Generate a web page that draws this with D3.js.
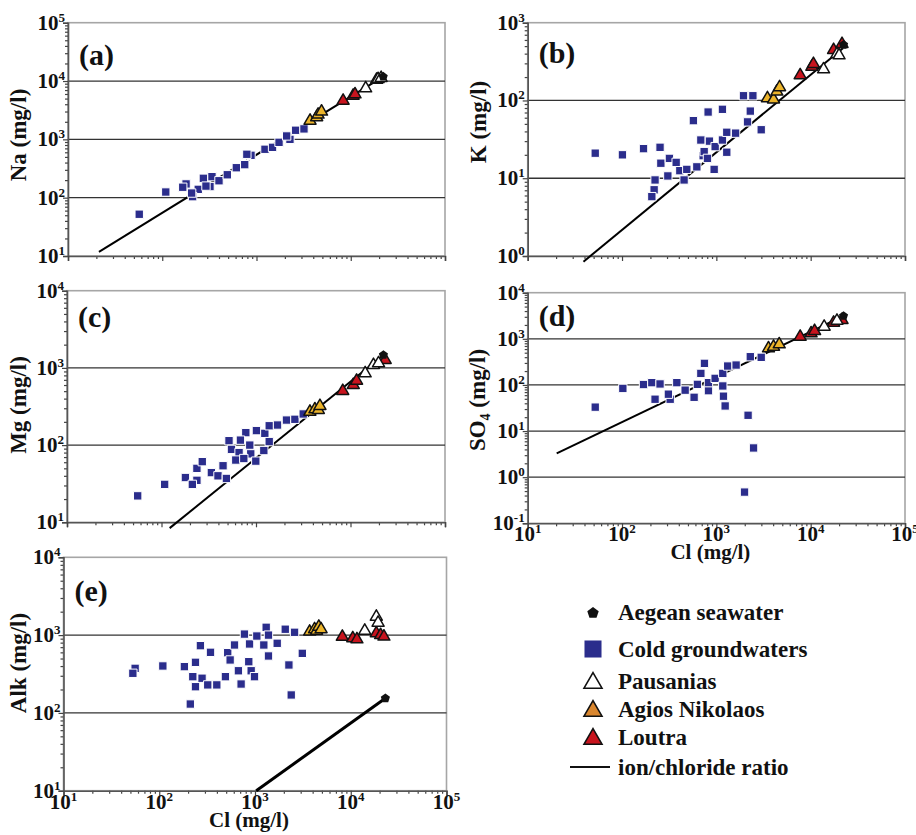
<!DOCTYPE html>
<html lang="en">
<head>
<meta charset="utf-8">
<title>Ion vs chloride</title>
<style>
  body { margin: 0; background: #fff; }
  svg text { font-family: "Liberation Serif", "Times New Roman", serif; font-weight: bold; fill: #111; }
</style>
</head>
<body>
<svg id="chart" width="916" height="835"></svg>
<script src="https://cdn.jsdelivr.net/npm/d3@7"></script>
<script>
// ---- data: [Cl mg/l, ion mg/l] ----
const clExponents = [1, 2, 3, 4, 5];

const naExponents = [1, 2, 3, 4, 5];
const naCold = [[57,52],[109,125],[179,172],[165,151],[241,139],[210,104],[205,120],[273,215],[337,229],[321,155],[291,158],[400,195],[490,247],[611,326],[750,368],[875,533],[790,555],[1230,676],[1480,730],[1734,890],[2265,1000],[2090,1143],[2600,1432],[3190,1510]];
const naPausanias = [[14400,7500],[18800,10500],[19500,10800],[21000,11300]];
const naAgios = [[3700,2090],[4350,2400],[4500,2650],[4900,2990]];
const naLoutra = [[8300,4600],[10600,5600],[11100,5900]];
const naSea = [[22100,11900]];
const naRatio = [[21.3,11.8],[22100,11900]];

const kExponents = [0, 1, 2, 3];
const kCold = [[52,21],[101,20],[169,24],[253,25],[258,15.6],[318,18],[375,16],[306,10.7],[224,9.5],[219,7.1],[207,5.8],[410,12.5],[455,9.5],[486,13],[621,14],[571,55],[818,71],[1160,77],[685,31],[845,30],[725,19.5],[743,22],[805,18],[948,13],[971,25.5],[1160,31],[1290,39],[1600,38],[1290,21.6],[2140,53],[2290,73],[1940,115],[2440,115],[2990,42]];
const kPausanias = [[13700,251],[19000,396],[20000,380]];
const kAgios = [[3480,107],[4040,103],[4380,130],[4680,148]];
const kLoutra = [[7740,211],[10300,272],[10700,294],[17500,446],[21500,532]];
const kSea = [[22300,520]];
const kRatio = [[39,0.845],[22000,470]];

const mgExponents = [1, 2, 3, 4];
const mgCold = [[56,22],[108,31],[179,38],[237,35],[237,50],[270,61],[212,31],[337,44],[396,40],[448,54],[486,37],[518,114],[550,88],[662,80],[611,64],[780,145],[684,116],[859,100],[880,77],[743,67],[1010,154],[1240,142],[1380,111],[1210,85],[995,62],[1380,178],[1690,182],[2100,211],[2580,216],[3160,253]];
const mgPausanias = [[14300,851],[17500,1090],[19800,1150]];
const mgAgios = [[3720,271],[4200,290],[4570,285],[4750,321]];
const mgLoutra = [[8280,502],[10700,601],[11600,682],[23300,1265]];
const mgSea = [[22300,1470]];
const mgRatio = [[122,8.4],[22300,1470]];

const so4Exponents = [-1, 0, 1, 2, 3, 4];
const so4Cold = [[52,33],[102,84],[169,102],[207,112],[253,105],[381,112],[224,49],[324,49],[310,63],[467,77],[581,54],[630,103],[685,178],[748,294],[825,75],[825,112],[971,139],[1170,178],[1170,95],[1190,57],[1240,35],[1320,257],[1620,270],[2290,409],[2990,397],[2170,22],[2480,4.3],[1990,0.475]];
const so4Pausanias = [[13900,1830],[19000,2470]];
const so4Agios = [[3570,622],[4040,675],[4640,758]];
const so4Loutra = [[7740,1110],[10100,1315],[11000,1475],[17500,2235],[21500,2560]];
const so4Sea = [[22300,3130]];
const so4Ratio = [[20.3,3.28],[22300,3130]];

const alkExponents = [1, 2, 3, 4];
const alkCold = [[56,374],[53,323],[109,401],[183,393],[239,447],[269,731],[343,601],[224,292],[280,279],[239,217],[321,229],[399,229],[211,130],[491,292],[519,594],[550,479],[611,746],[776,1030],[671,348],[716,235],[861,455],[877,769],[912,348],[988,292],[1045,973],[1236,746],[1309,1260],[1383,1000],[1383,539],[1706,785],[2070,1190],[2590,1087],[3120,583],[2260,413],[2390,170]];
const alkPausanias = [[14000,1140],[18500,1725],[19300,1440]];
const alkAgios = [[3720,1107],[4190,1190],[4400,1140],[4640,1282],[4900,1190]];
const alkLoutra = [[8170,953],[10500,910],[11600,883],[18500,1055],[20500,1000],[22200,955]];
const alkSea = [[23000,154]];
const alkRatio = [[1030,10],[23000,154]];

const legendLabels = ["Aegean seawater", "Cold groundwaters", "Pausanias", "Agios Nikolaos", "Loutra", "ion/chloride ratio"];

// ---- layout ----
const colors = { cold: "#2b2d8c", agios: "#ecb42a", agiosLegend: "#d9862e", loutra: "#c8141e" };

const panels = [
  { tag: "(a)", ion: "Na", exps: naExponents, cold: naCold, paus: naPausanias, agios: naAgios, loutra: naLoutra, sea: naSea, ratio: naRatio,
    box: [68, 22.7, 445, 256], tagDy: 42, labelY: 135, labelX: 26, xLabels: false, lineW: 2 },
  { tag: "(b)", ion: "K", exps: kExponents, cold: kCold, paus: kPausanias, agios: kAgios, loutra: kLoutra, sea: kSea, ratio: kRatio,
    box: [527.7, 22.7, 905, 256], tagDy: 40, labelY: 122, labelX: 486, xLabels: false, lineW: 2 },
  { tag: "(c)", ion: "Mg", exps: mgExponents, cold: mgCold, paus: mgPausanias, agios: mgAgios, loutra: mgLoutra, sea: mgSea, ratio: mgRatio,
    box: [67, 290.7, 445, 522.3], tagDy: 36, labelY: 405, labelX: 26, xLabels: false, lineW: 2 },
  { tag: "(d)", ion: "SO4", exps: so4Exponents, cold: so4Cold, paus: so4Pausanias, agios: so4Agios, loutra: so4Loutra, sea: so4Sea, ratio: so4Ratio,
    box: [527.7, 292.7, 905, 523.3], tagDy: 33, labelY: 400, labelX: 485, xLabels: true, lineW: 2 },
  { tag: "(e)", ion: "Alk", exps: alkExponents, cold: alkCold, paus: alkPausanias, agios: alkAgios, loutra: alkLoutra, sea: alkSea, ratio: alkRatio,
    box: [63.5, 557.3, 446.5, 790.7], tagDy: 44, labelY: 663, labelX: 26, xLabels: true, lineW: 3 }
];

const svg = d3.select("#chart");

function pentagon(r) {
  const pts = d3.range(5).map(i => {
    const a = -Math.PI / 2 + i * 2 * Math.PI / 5;
    return [r * Math.cos(a), r * Math.sin(a)];
  });
  return "M" + pts.join("L") + "Z";
}

function powLabel(sel, exp, supSize) {
  sel.text("10");
  sel.append("tspan").attr("dy", -8).style("font-size", supSize + "px").text(exp);
}

panels.forEach(p => {
  const [x0, y0, x1, y1] = p.box;
  const g = svg.append("g");
  const x = d3.scaleLog().domain([10, 1e5]).range([x0, x1]);
  const yDom = [Math.pow(10, p.exps[0]), Math.pow(10, p.exps[p.exps.length - 1])];
  const y = d3.scaleLog().domain(yDom).range([y1, y0]);
  const yMajor = p.exps.map(e => Math.pow(10, e));
  const xMajor = clExponents.map(e => Math.pow(10, e));

  // frame
  g.append("rect").attr("x", x0).attr("y", y0).attr("width", x1 - x0).attr("height", y1 - y0)
    .attr("fill", "#fff").attr("stroke", "#a6a6a6").attr("stroke-width", 1.6);

  // gridlines at interior decades
  g.selectAll(".grid").data(yMajor.slice(1, -1)).enter().append("line")
    .attr("x1", x0).attr("x2", x1).attr("y1", d => y(d)).attr("y2", d => y(d))
    .attr("stroke", "#333").attr("stroke-width", 1.3);

  // axes: minor + major ticks
  const yMinor = y.ticks().filter(v => !yMajor.some(m => Math.abs(m - v) / m < 1e-6));
  const xMinor = x.ticks().filter(v => !xMajor.some(m => Math.abs(m - v) / m < 1e-6));
  const ax = g.append("g").attr("transform", `translate(${x0},0)`);
  ax.call(d3.axisLeft(y).tickValues(yMinor).tickSize(3).tickFormat(""));
  ax.call(g2 => g2.select(".domain").remove());
  const axM = g.append("g").attr("transform", `translate(${x0},0)`)
    .call(d3.axisLeft(y).tickValues(yMajor).tickSize(5).tickFormat(""));
  axM.select(".domain").attr("stroke", "#555").attr("stroke-width", 1.6);
  const bx = g.append("g").attr("transform", `translate(0,${y1})`)
    .call(d3.axisBottom(x).tickValues(xMinor).tickSize(3).tickFormat(""));
  bx.select(".domain").remove();
  const bxM = g.append("g").attr("transform", `translate(0,${y1})`)
    .call(d3.axisBottom(x).tickValues(xMajor).tickSize(5).tickFormat(""));
  bxM.select(".domain").attr("stroke", "#555").attr("stroke-width", 1.6);
  g.selectAll(".tick line").attr("stroke", "#444").attr("stroke-width", 1.2);

  // y tick labels
  yMajor.forEach((v, i) => {
    g.append("text").attr("x", x0 - 3).attr("y", y(v) + 7).attr("text-anchor", "end")
      .style("font-size", "21px").call(powLabel, p.exps[i], 13);
  });
  if (p.xLabels) {
    xMajor.forEach((v, i) => {
      g.append("text").attr("x", x(v)).attr("y", y1 + 18).attr("text-anchor", "middle")
        .style("font-size", "21px").call(powLabel, clExponents[i], 13);
    });
    g.append("text").attr("x", (x0 + x1) / 2 - 6).attr("y", y1 + 36).attr("text-anchor", "middle")
      .style("font-size", "21px").text("Cl (mg/l)");
  }

  // y axis title
  const yl = g.append("text").attr("transform", `translate(${p.labelX},${p.labelY}) rotate(-90)`)
    .attr("text-anchor", "middle").style("font-size", "23px");
  if (p.ion === "SO4") {
    yl.append("tspan").text("SO");
    yl.append("tspan").attr("dy", 5).style("font-size", "14px").text("4");
    yl.append("tspan").attr("dy", -5).text(" (mg/l)");
  } else {
    yl.text(p.ion + " (mg/l)");
  }

  // panel tag
  g.append("text").attr("x", x0 + 11).attr("y", y0 + p.tagDy).style("font-size", "30px").text(p.tag);

  // ion/chloride ratio line
  g.append("path").datum(p.ratio)
    .attr("d", d3.line().x(d => x(d[0])).y(d => y(d[1])))
    .attr("fill", "none").attr("stroke", "#000").attr("stroke-width", p.lineW);

  // cold groundwaters
  g.selectAll(".cold").data(p.cold).enter().append("path")
    .attr("transform", d => `translate(${x(d[0])},${y(d[1])})`)
    .attr("d", d3.symbol(d3.symbolSquare, 70)())
    .attr("fill", colors.cold).attr("stroke", "#fff").attr("stroke-width", 1);

  const tri = d3.symbol(d3.symbolTriangle, 62)();
  [[p.agios, colors.agios], [p.loutra, colors.loutra], [p.paus, "#fff"]].forEach(([arr, c]) => {
    g.selectAll(null).data(arr).enter().append("path")
      .attr("transform", d => `translate(${x(d[0])},${y(d[1])})`)
      .attr("d", tri).attr("fill", c).attr("stroke", "#111").attr("stroke-width", 1.5)
      .attr("stroke-linejoin", "round");
  });

  g.selectAll(null).data(p.sea).enter().append("path")
    .attr("transform", d => `translate(${x(d[0])},${y(d[1])})`)
    .attr("d", pentagon(4.8)).attr("fill", "#111");
});

// ---- legend ----
const lg = svg.append("g");
const rowY = [613, 649, 682, 710, 738, 767];
const textY = [620, 657, 689, 717, 745, 775];
const mx = 593;
lg.append("path").attr("transform", `translate(${mx},${rowY[0]})`).attr("d", pentagon(6)).attr("fill", "#111");
lg.append("path").attr("transform", `translate(${mx},${rowY[1]})`).attr("d", d3.symbol(d3.symbolSquare, 290)())
  .attr("fill", colors.cold);
const bigTri = d3.symbol(d3.symbolTriangle, 140)();
[["#fff", 2], [colors.agiosLegend, 3], [colors.loutra, 4]].forEach(([c, i]) => {
  lg.append("path").attr("transform", `translate(${mx},${rowY[i] + 1})`).attr("d", bigTri)
    .attr("fill", c).attr("stroke", "#111").attr("stroke-width", 1.6);
});
lg.append("line").attr("x1", 570).attr("x2", 610).attr("y1", rowY[5]).attr("y2", rowY[5])
  .attr("stroke", "#111").attr("stroke-width", 2);
legendLabels.forEach((t, i) => {
  lg.append("text").attr("x", 618).attr("y", textY[i]).style("font-size", "23px").text(t);
});
</script>
</body>
</html>
